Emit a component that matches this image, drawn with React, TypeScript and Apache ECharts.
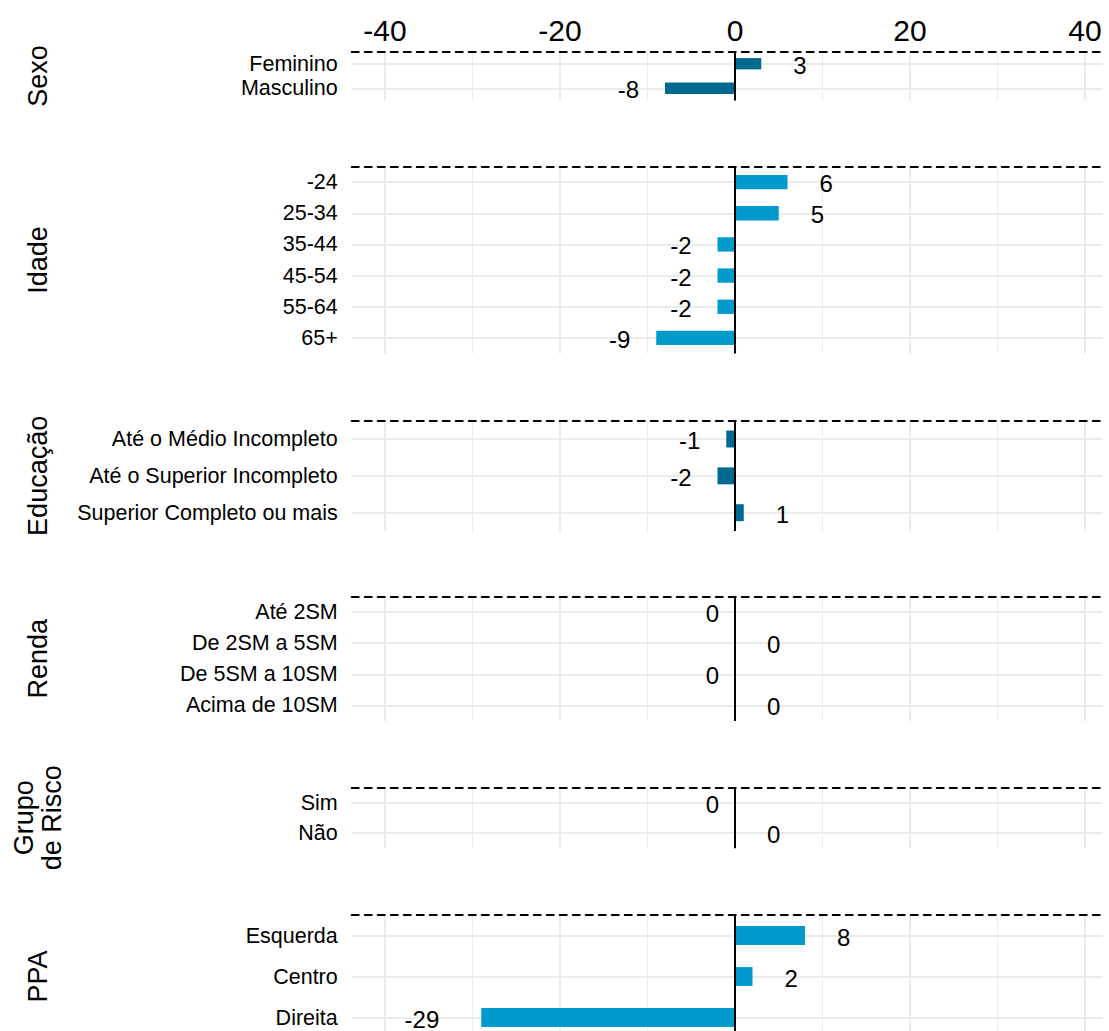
import React, { useEffect, useRef } from 'react';
import * as echarts from 'echarts';

// ---------- data ----------
const panelTitles = ['Sexo', 'Idade', 'Educação', 'Renda', 'Grupo\nde Risco', 'PPA'];

const sexoCategories = ['Feminino', 'Masculino'];
const sexoValues = [3, -8];

const idadeCategories = ['-24', '25-34', '35-44', '45-54', '55-64', '65+'];
const idadeValues = [6, 5, -2, -2, -2, -9];

const educacaoCategories = ['Até o Médio Incompleto', 'Até o Superior Incompleto', 'Superior Completo ou mais'];
const educacaoValues = [-1, -2, 1];

const rendaCategories = ['Até 2SM', 'De 2SM a 5SM', 'De 5SM a 10SM', 'Acima de 10SM'];
const rendaValues = [0, 0, 0, 0];

const grupoCategories = ['Sim', 'Não'];
const grupoValues = [0, 0];

const ppaCategories = ['Esquerda', 'Centro', 'Direita'];
const ppaValues = [8, 2, -29];

const xMajorTicks = [-40, -20, 0, 20, 40];
const xMinorTicks = [-30, -10, 10, 30];

const panelCategories = [sexoCategories, idadeCategories, educacaoCategories, rendaCategories, grupoCategories, ppaCategories];
const panelValues = [sexoValues, idadeValues, educacaoValues, rendaValues, grupoValues, ppaValues];

// ---------- styling / layout ----------
const FONT = '"Liberation Sans", Arial, Helvetica, sans-serif';
const X_MIN = -43.8;
const X_MAX = 42;
const GRID_LEFT = 351.75;
const GRID_WIDTH = 750.75;
const STRIP_CENTER_X = 38;
const panelBoxes = [
  { top: 51.5, height: 49 },
  { top: 166.5, height: 187 },
  { top: 420.6, height: 110.5 },
  { top: 596.5, height: 124.5 },
  { top: 787.3, height: 61 },
  { top: 915, height: 123 },
];
const barColors = ['#00698F', '#009ACD'];
const gridColor = '#EBEBEB';
const labelGapOverrides: Record<string, number> = { Direita: 42 };

function buildOption() {
  const grid: any[] = [];
  const xAxis: any[] = [];
  const yAxis: any[] = [];
  const series: any[] = [];

  panelBoxes.forEach((box, i) => {
    grid.push({
      left: GRID_LEFT,
      width: GRID_WIDTH,
      top: box.top,
      height: box.height,
      outerBoundsMode: 'none',
      containLabel: false,
    });

    xAxis.push({
      type: 'value',
      gridIndex: i,
      position: 'top',
      min: X_MIN,
      max: X_MAX,
      axisLine: { show: true, onZero: false, lineStyle: { color: '#000', width: 2, type: [7, 6] } },
      axisTick: { show: false, customValues: xMajorTicks },
      axisLabel: {
        show: i === 0,
        customValues: xMajorTicks,
        fontSize: 30,
        color: '#000',
        margin: 6,
        fontFamily: FONT,
      },
      splitLine: { show: true, lineStyle: { color: gridColor, width: 2 } },
    });
    xAxis.push({
      type: 'value',
      gridIndex: i,
      position: 'bottom',
      min: X_MIN,
      max: X_MAX,
      axisLine: { show: false },
      axisTick: { show: false, customValues: xMinorTicks },
      axisLabel: { show: false },
      splitLine: { show: true, lineStyle: { color: gridColor, width: 1 } },
    });

    const cats = panelCategories[i];
    yAxis.push({
      type: 'category',
      gridIndex: i,
      data: cats,
      inverse: true,
      axisLine: { show: false },
      axisTick: { show: false },
      axisLabel: { interval: 0, fontSize: 21.5, color: '#000', margin: 14, fontFamily: FONT },
      splitLine: { show: true, interval: 0, alignWithLabel: true, lineStyle: { color: gridColor, width: 2 } },
      name: panelTitles[i],
      nameLocation: 'middle',
      nameRotate: 90,
      nameGap: GRID_LEFT - STRIP_CENTER_X,
      nameTextStyle: {
        fontSize: 27,
        color: '#000',
        fontFamily: FONT,
        align: 'center',
        verticalAlign: 'middle',
        lineHeight: 28,
      },
    });

    const values = panelValues[i];
    series.push({
      type: 'bar',
      xAxisIndex: 2 * i,
      yAxisIndex: i,
      barWidth: '46%',
      itemStyle: { color: barColors[i % 2] },
      label: {
        show: true,
        fontSize: 24,
        color: '#000',
        fontFamily: FONT,
        formatter: '{c}',
        offset: [0, 1.5],
      },
      data: values.map((v, j) => {
        const side = v > 0 ? 'right' : v < 0 ? 'left' : j % 2 === 0 ? 'left' : 'right';
        const gap =
          labelGapOverrides[cats[j]] ?? (v > 0 ? 32 : v < 0 ? 26 : side === 'left' ? 16 : 32);
        return { value: v, label: { position: side, distance: gap } };
      }),
      markLine: {
        silent: true,
        symbol: ['none', 'none'],
        label: { show: false },
        lineStyle: { color: '#000', width: 2, type: 'solid' },
        emphasis: { disabled: true },
        data: [{ xAxis: 0 }],
      },
    });
  });

  return {
    animation: false,
    backgroundColor: '#fff',
    textStyle: { fontFamily: FONT },
    grid,
    xAxis,
    yAxis,
    series,
  };
}

export default function App() {
  const ref = useRef<HTMLDivElement>(null);
  useEffect(() => {
    if (!ref.current) return;
    const chart = echarts.init(ref.current, null, { renderer: 'svg' });
    chart.setOption(buildOption() as any);
    return () => chart.dispose();
  }, []);
  return (
    <div
      ref={ref}
      style={{ position: 'absolute', left: 0, top: 0, width: 1109, height: 1031, background: '#fff' }}
    />
  );
}
